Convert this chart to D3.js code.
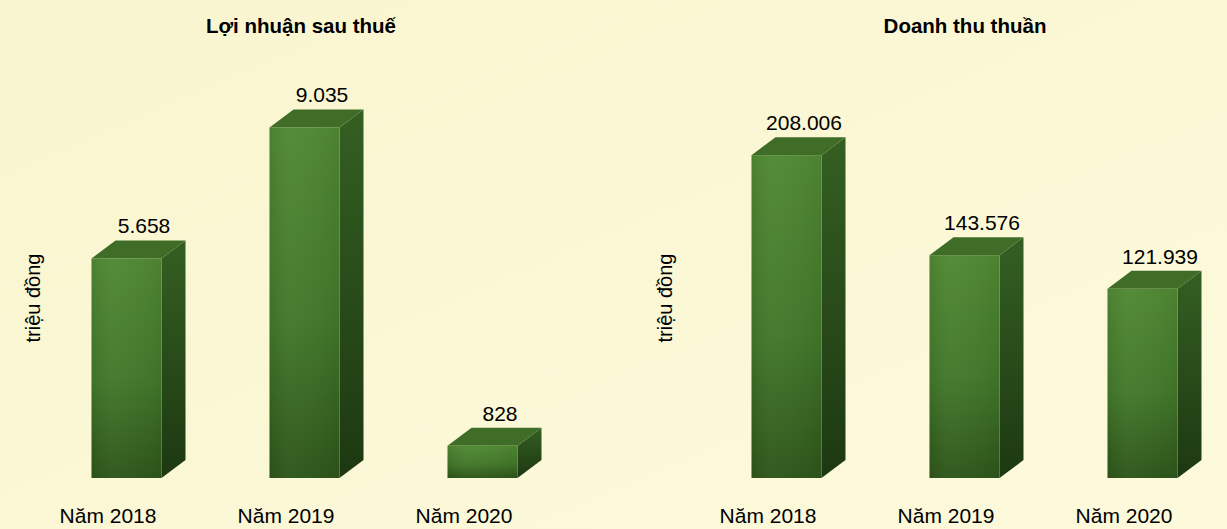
<!DOCTYPE html>
<html>
<head>
<meta charset="utf-8">
<script src="https://cdn.jsdelivr.net/npm/d3@7"></script>
<style>
  html, body { margin: 0; padding: 0; }
  svg { display: block; }
  text { font-family: "Liberation Sans", Arial, sans-serif; fill: #000; }
</style>
</head>
<body>
<svg id="chart" width="1227" height="529"></svg>
<script>
// ---- data ----
const categories = ["Năm 2018", "Năm 2019", "Năm 2020"];
const profitValues = [5658, 9035, 828];
const profitLabels = ["5.658", "9.035", "828"];
const revenueValues = [208006, 143576, 121939];
const revenueLabels = ["208.006", "143.576", "121.939"];
const titles = ["Lợi nhuận sau thuế", "Doanh thu thuần"];
const axisTitle = "triệu đồng";

// ---- layout ----
const W = 1227, H = 529;
const svg = d3.select("#chart");
const defs = svg.append("defs");

const bg = defs.append("linearGradient").attr("id", "bg")
  .attr("x1", "0").attr("y1", "0").attr("x2", "1").attr("y2", "1");
bg.append("stop").attr("offset", "0").attr("stop-color", "#f9f5cf");
bg.append("stop").attr("offset", "1").attr("stop-color", "#fdfadc");
svg.append("rect").attr("width", W).attr("height", H).attr("fill", "url(#bg)");

const front = defs.append("linearGradient").attr("id", "front")
  .attr("x1", "0").attr("y1", "0").attr("x2", "0").attr("y2", "1");
front.append("stop").attr("offset", "0").attr("stop-color", "#4f8832");
front.append("stop").attr("offset", "0.55").attr("stop-color", "#42782a");
front.append("stop").attr("offset", "1").attr("stop-color", "#2d5519");

const frontH = defs.append("linearGradient").attr("id", "frontH")
  .attr("x1", "0").attr("y1", "0").attr("x2", "1").attr("y2", "0");
frontH.append("stop").attr("offset", "0").attr("stop-color", "#000").attr("stop-opacity", 0.06);
frontH.append("stop").attr("offset", "0.3").attr("stop-color", "#fff").attr("stop-opacity", 0.03);
frontH.append("stop").attr("offset", "1").attr("stop-color", "#000").attr("stop-opacity", 0.05);

const side = defs.append("linearGradient").attr("id", "side")
  .attr("x1", "0").attr("y1", "0").attr("x2", "0").attr("y2", "1");
side.append("stop").attr("offset", "0").attr("stop-color", "#345f22");
side.append("stop").attr("offset", "1").attr("stop-color", "#1d3811");

const baseY = 478, topY = 90;
const barW = 70, dx = 24, dy = 18;

function drawChart(cfg) {
  const g = svg.append("g");
  const x = d3.scaleBand().domain(categories).range(cfg.xRange).paddingInner(0).paddingOuter(0);
  const y = d3.scaleLinear().domain([0, cfg.max]).range([baseY, topY]);
  const data = categories.map((c, i) => ({ c, v: cfg.values[i], label: cfg.labels[i] }));

  const bars = g.selectAll("g.bar").data(data).join("g").attr("class", "bar");
  const fx = d => x(d.c) + x.bandwidth() / 2 + 18.5 - barW / 2;

  // side face
  bars.append("path")
    .attr("d", d => {
      const x0 = fx(d) + barW, yt = y(d.v);
      return `M${x0},${yt} L${x0 + dx},${yt - dy} L${x0 + dx},${baseY - dy} L${x0},${baseY} Z`;
    })
    .attr("fill", "url(#side)");
  // top face
  bars.append("path")
    .attr("d", d => {
      const x0 = fx(d), yt = y(d.v);
      return `M${x0},${yt} L${x0 + dx},${yt - dy} L${x0 + barW + dx},${yt - dy} L${x0 + barW},${yt} Z`;
    })
    .attr("fill", "#3f6d27");
  // front face
  bars.append("rect")
    .attr("x", d => fx(d)).attr("y", d => y(d.v))
    .attr("width", barW).attr("height", d => baseY - y(d.v))
    .attr("fill", "url(#front)");
  bars.append("rect")
    .attr("x", d => fx(d)).attr("y", d => y(d.v))
    .attr("width", barW).attr("height", d => baseY - y(d.v))
    .attr("fill", "url(#frontH)");

  // value labels
  bars.append("text")
    .attr("x", d => x(d.c) + x.bandwidth() / 2 + 36)
    .attr("y", d => y(d.v) - dy - 7)
    .attr("text-anchor", "middle")
    .style("font-size", "21px")
    .text(d => d.label);

  // category axis labels
  const axis = d3.axisBottom(x).tickSize(0).tickPadding(0);
  const ag = g.append("g").attr("transform", `translate(0,${baseY})`).call(axis);
  ag.select(".domain").remove();
  ag.selectAll("text")
    .attr("dy", null).attr("y", 45)
    .style("font-size", "21px")
    .style("font-family", "'Liberation Sans', Arial, sans-serif")
    .attr("fill", "#000");

  // title
  g.append("text")
    .attr("x", cfg.titleX).attr("y", 33)
    .attr("text-anchor", "middle")
    .style("font-size", "20.5px").style("font-weight", "bold")
    .text(cfg.title);

  // axis title
  g.append("text")
    .attr("transform", `translate(${cfg.axisX},298) rotate(-90)`)
    .attr("text-anchor", "middle")
    .style("font-size", "20px")
    .text(axisTitle);
}

drawChart({ xRange: [19, 553], max: 10000, values: profitValues, labels: profitLabels,
  title: titles[0], titleX: 301, axisX: 40 });
drawChart({ xRange: [679, 1213], max: 250000, values: revenueValues, labels: revenueLabels,
  title: titles[1], titleX: 965, axisX: 672 });
</script>
</body>
</html>
